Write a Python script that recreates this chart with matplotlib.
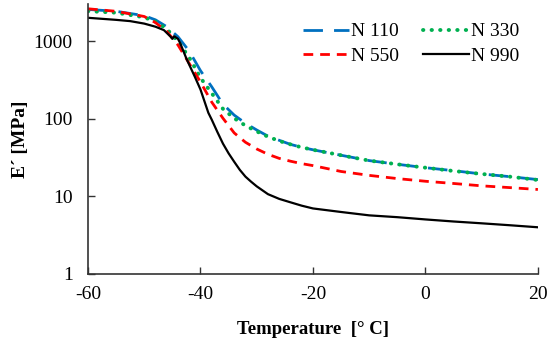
import matplotlib
matplotlib.use("Agg")
import matplotlib.pyplot as plt

# Data
T = [-60, -55, -50, -48, -46, -44, -42, -40, -38, -36, -34, -32, -30, -28, -26,
     -24, -22, -20, -15, -10, -5, 0, 5, 10, 15, 20]
n110 = [2590, 2450, 2150, 1900, 1550, 1150, 750, 420, 260, 155, 112, 88, 72, 60, 53,
        47, 43, 40, 34, 29, 26, 23.5, 21.5, 19.5, 18, 16.5]
n330 = [2460, 2350, 2050, 1800, 1450, 1000, 620, 340, 215, 135, 102, 82, 69, 59, 52,
        47, 43, 40, 34, 29, 26, 23.5, 21.3, 19.5, 18, 16.3]
n550 = [2640, 2450, 2100, 1750, 1350, 900, 520, 300, 165, 102, 66, 50, 41, 35, 31,
        28.5, 26.5, 25, 21, 18.7, 17, 15.7, 14.7, 13.7, 13, 12.3]
T990 = [-60, -55, -52.5, -50, -48, -46.5, -45.3, -45, -44.7, -44, -43.6, -42.5, -41,
        -40, -38.6, -38, -37, -36, -35, -34, -33, -32, -31, -30, -28, -26, -24, -22,
        -20, -15, -10, -5, 0, 5, 10, 15, 20]
n990 = [2020, 1900, 1830, 1700, 1550, 1400, 1150, 1080, 1170, 1080, 950, 600, 350,
        240, 120, 98, 68, 48, 36, 28, 22, 18, 15.5, 13.5, 10.7, 9.3, 8.4, 7.6,
        7.0, 6.3, 5.7, 5.4, 5.05, 4.75, 4.5, 4.25, 4.0]

labels = ["N 110", "N 330", "N 550", "N 990"]
xticks = [-60, -40, -20, 0, 20]
yticks = [1, 10, 100, 1000]

plt.rcParams['font.family'] = ['Liberation Serif', 'DejaVu Serif']

fig = plt.figure(figsize=(5.5, 3.45), dpi=100)
ax = fig.add_axes([0.16, 0.206, 0.818, 0.781])

l1, = ax.plot(T, n110, color='#0070C0', lw=2.0, dashes=(7, 4), label=labels[0])
l2, = ax.plot(T, n330, color='#00B050', lw=2.8, linestyle=(0, (0.1, 2.1)),
              dash_capstyle='round', label=labels[1])
l3, = ax.plot(T, n550, color='#FF0000', lw=2.0, dashes=(3.5, 2.5), label=labels[2])
l4, = ax.plot(T990, n990, color='black', lw=1.6, label=labels[3])

ax.set_yscale('log')
ax.set_xlim(-60, 20)
ax.set_ylim(1, 3000)
ax.set_xticks(xticks)
ax.set_xticklabels([str(v) for v in xticks])
ax.set_yticks(yticks)
ax.set_yticklabels([str(v) for v in yticks])
ax.minorticks_off()
ax.tick_params(direction='in', length=5, width=1, labelsize=14, color='#333333')
ax.tick_params(axis='x', pad=9)
ax.tick_params(axis='y', pad=11)

for s in ['top', 'right']:
    ax.spines[s].set_visible(False)
for s in ['left', 'bottom']:
    ax.spines[s].set_linewidth(1.2)
    ax.spines[s].set_color('#333333')

ax.set_xlabel("Temperature  [° C]", fontsize=13.5, fontweight='bold', labelpad=13)
ax.set_ylabel("E´ [MPa]", fontsize=14, fontweight='bold', labelpad=3)

leg = ax.legend(handles=[l1, l3, l2, l4], ncol=2, loc='upper right',
                bbox_to_anchor=(0.985, 0.975), frameon=False, fontsize=14,
                handlelength=2.4, handletextpad=0.1, columnspacing=1.2,
                labelspacing=0.35, borderaxespad=0.2)

fig.savefig("out.png", dpi=100)
